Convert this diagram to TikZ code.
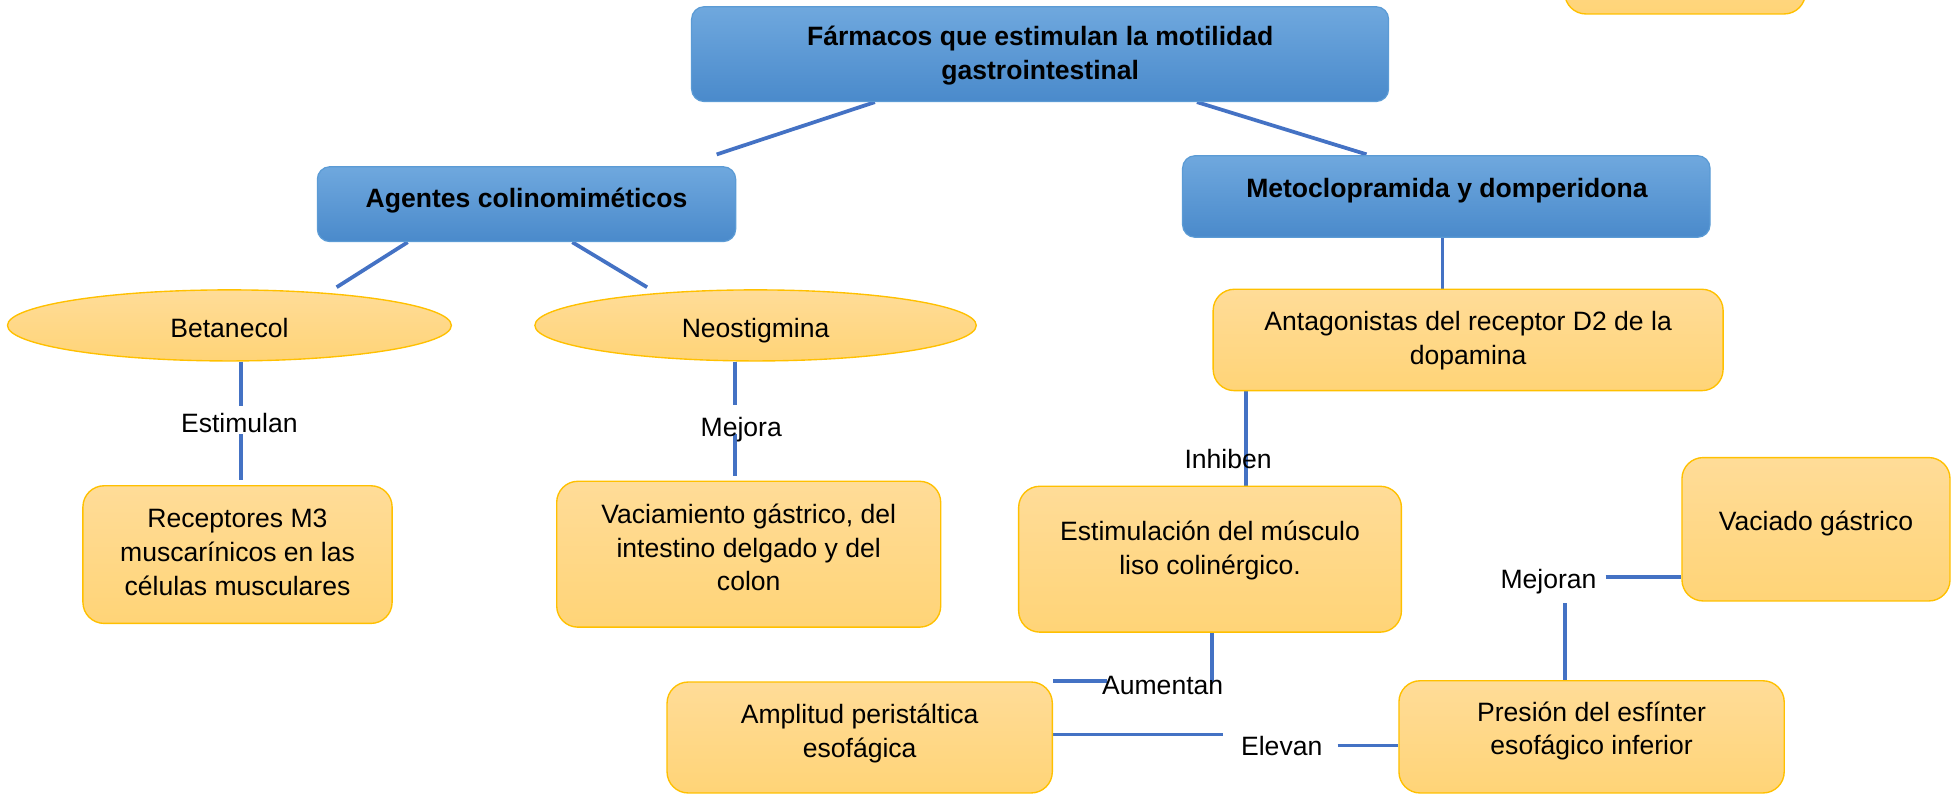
\documentclass[tikz,border=0pt]{standalone}
\usepackage{fontspec}
\setmainfont{Liberation Sans}
\usetikzlibrary{shapes.geometric,calc,backgrounds}
\definecolor{connc}{HTML}{4472C4}
\definecolor{bluetop}{HTML}{6FA8DE}
\definecolor{bluebot}{HTML}{4A8ACB}
\definecolor{blueedge}{HTML}{5B9BD5}
\definecolor{ortop}{HTML}{FFDC98}
\definecolor{orbot}{HTML}{FFD477}
\definecolor{oredge}{HTML}{FFC000}
\begin{document}
\begin{tikzpicture}[x=1pt,y=-1pt,
  bluebox/.style={draw=blueedge, line width=1pt, rounded corners=10pt, top color=bluetop, bottom color=bluebot, inner sep=0pt},
  orbox/.style={draw=oredge, line width=1.1pt, rounded corners=17pt, top color=ortop, bottom color=orbot, inner sep=0pt},
  oval/.style={ellipse, draw=oredge, line width=1.1pt, top color=ortop, bottom color=orbot, inner sep=0pt},
  txt/.style={inner sep=0pt, align=center, text=black, font=\fontsize{21.3}{27}\selectfont,
    execute at begin node={\rule{0pt}{22pt}}, execute at end node={\rule[-6.7pt]{0pt}{0pt}}},
  btxt/.style={txt, font=\fontsize{21.3}{27}\selectfont\bfseries},
  conn/.style={draw=connc, line width=3pt},
]
\useasboundingbox (0,0) rectangle (1568,636.8);
\clip (0,0) rectangle (1568,636.8);

% boxes
\node[bluebox, minimum width=559, minimum height=76] (title) at (834.2,43.4) {};
\node[orbox, minimum width=193, minimum height=71.2] (topr) at (1351.5,-24.4) {};
\node[bluebox, minimum width=335.5, minimum height=60] (agentes) at (422.3,163.75) {};
\node[bluebox, minimum width=423, minimum height=65.4] (meto) at (1160,157.6) {};
\node[oval, minimum width=356, minimum height=57] (betanecol) at (184,261) {};
\node[oval, minimum width=354, minimum height=57] (neo) at (606,261) {};
\node[orbox, minimum width=409, minimum height=81.3] (antag) at (1177.5,272.65) {};
\node[orbox, minimum width=248, minimum height=110.4] (receptores) at (190.5,444.8) {};
\node[orbox, minimum width=308, minimum height=117] (vaciamiento) at (600.5,444.5) {};
\node[orbox, minimum width=307, minimum height=117] (estim) at (970.5,448.5) {};
\node[orbox, minimum width=215, minimum height=115] (vaciado) at (1456.5,424.5) {};
\node[orbox, minimum width=309, minimum height=89] (amplitud) at (689.5,591.5) {};
\node[orbox, minimum width=309, minimum height=90] (presion) at (1276.5,591) {};

% texts
\node[btxt] (titleT) at (834.3,45.5) {Fármacos que estimulan la motilidad\\gastrointestinal};
\node[btxt] (agentesT) at (422.3,159) {Agentes colinomiméticos};
\node[btxt] (metoT) at (1160.5,151) {Metoclopramida y domperidona};
\node[txt] (betanecolT) at (184,263) {Betanecol};
\node[txt] (neoT) at (606,263) {Neostigmina};
\node[txt] (antagT) at (1177.5,274.2) {Antagonistas del receptor D2 de la\\dopamina};
\node[txt] (receptoresT) at (190.5,446.3) {Receptores M3\\muscarínicos en las\\células musculares};
\node[txt] (vaciamientoT) at (600.5,442.5) {Vaciamiento gástrico, del\\intestino delgado y del\\colon};
\node[txt] (estimT) at (970.5,442.5) {Estimulación del músculo\\liso colinérgico.};
\node[txt] (vaciadoT) at (1456.5,418) {Vaciado gástrico};
\node[txt] (amplitudT) at (689.5,589.5) {Amplitud peristáltica\\esofágica};
\node[txt] (presionT) at (1276.5,587.5) {Presión del esfínter\\esofágico inferior};

% connector labels
\node[txt] (estimulan) at (192,339.5) {Estimulan};
\node[txt] (mejora) at (594.5,342.5) {Mejora};
\node[txt] (inhiben) at (985,368) {Inhiben};
\node[txt] (aumentan) at (932.5,549.5) {Aumentan};
\node[txt] (elevan) at (1028,598) {Elevan};
\node[txt] (mejoran) at (1242,464) {Mejoran};

% connectors
\begin{pgfonlayer}{background}
\draw[conn] ($(title.south)+(-132.5,0)$) -- ($(agentes.north)+(152.5,-9.4)$);
\draw[conn] ($(title.south)+(125.8,0)$) -- ($(meto.north)+(-64,-0.6)$);
\draw[conn] ($(agentes.south)+(-95.3,0)$) -- ($(betanecol.north)+(86,-1.6)$);
\draw[conn] ($(agentes.south)+(36.7,0)$) -- ($(neo.north)+(-87,-1.6)$);
\draw[conn] ($(meto.south)+(-3,0)$) -- ($(antag.north)+(-20.5,0)$);
\draw[conn] ($(betanecol.south)+(9,0)$) -- ($(estimulan.north)+(1,0.5)$);
\draw[conn] ($(estimulan.south)+(1,-5.8)$) -- ($(receptores.north)+(2.5,-4)$);
\draw[conn] ($(neo.south)+(-16.4,0)$) -- ($(mejora.north)+(-4.9,-3.1)$);
\draw[conn] ($(mejora.south)+(-4.9,-8.8)$) -- ($(vaciamiento.north)+(-10.9,-4)$);
\draw[conn] ($(antag.south)+(-178,0)$) -- ($(estim.north)+(29,0)$);
\draw[conn] ($(estim.south)+(1.5,0)$) -- ($(aumentan.center)+(39.5,-2.5)$);
\draw[conn] (amplitud.north east) -- ($(aumentan.west |- amplitud.north east)+(4,0)$);
\draw[conn] ($(amplitud.east)+(0,-2.5)$) -- ($(elevan.west)+(-14,-9)$);
\draw[conn] ($(elevan.east)+(12,0)$) -- ($(presion.west)+(0,7)$);
\draw[conn] ($(presion.north)+(-21.5,0)$) -- ($(mejoran.south)+(13,4.7)$);
\draw[conn] ($(mejoran.east)+(7,-1)$) -- ($(vaciado.west)+(0,38.5)$);
\end{pgfonlayer}
\end{tikzpicture}
\end{document}
